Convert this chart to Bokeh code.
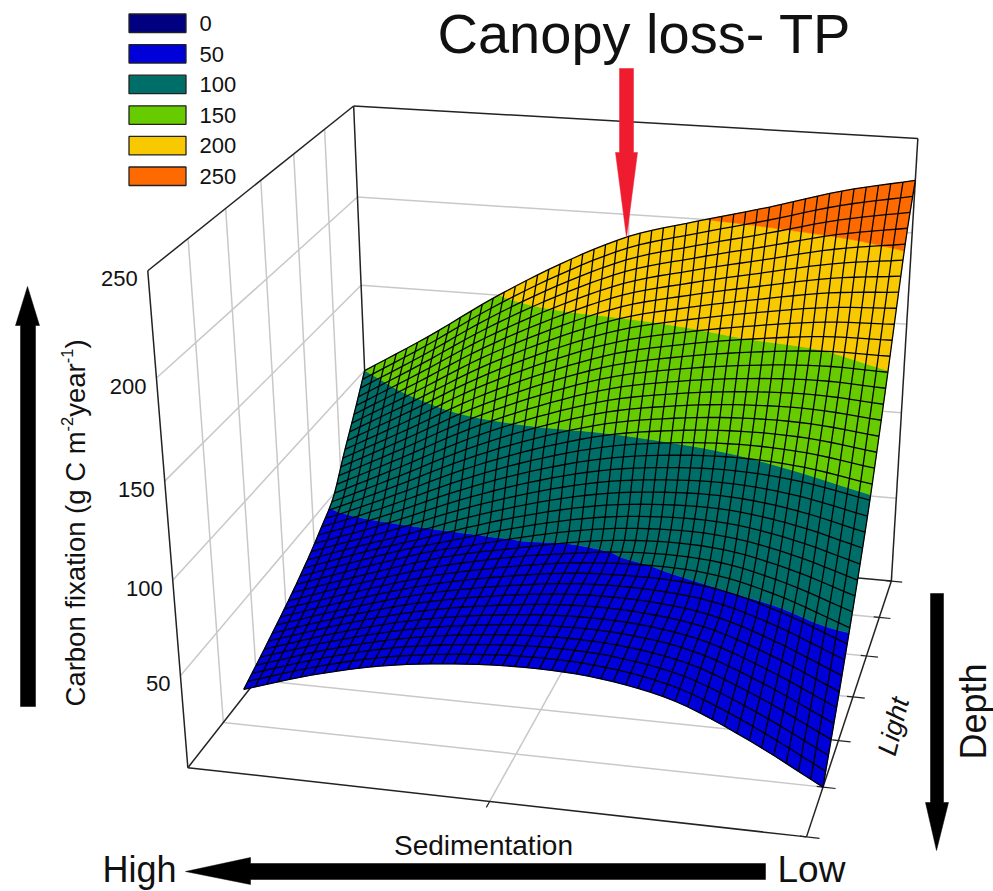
import numpy as np
from bokeh.plotting import figure
from bokeh.models import Range1d, ColumnDataSource
from bokeh.core.properties import value
from bokeh.embed import file_html
from bokeh.resources import INLINE

# ---- data ----
legend_levels = [0, 50, 100, 150, 200, 250]
legend_colors = ["#000080", "#0000d8", "#006e68", "#66cc00", "#f8c800", "#ff6a00"]
z_ticks = [50, 100, 150, 200, 250]
z_max = 250
sed_nodes = [0, 0.125, 0.25, 0.375, 0.5, 0.625, 0.75, 0.875, 1]
light_nodes = [0, 0.2, 0.4, 0.5, 0.6, 0.7, 0.8, 0.9, 1]
# Carbon fixation read at the coarse nodes; the fine mesh below is a display
# refinement of these readings, as the original draws a smooth fitted surface.
z_light_00 = [20, 32, 41, 46, 48, 46, 38, 21, 0]
z_light_20 = [27, 36, 43, 47, 48, 47, 43, 37, 35]
z_light_40 = [35, 41, 46, 48, 49, 48, 47, 55, 74]
z_light_50 = [40, 45, 48, 49, 49, 49, 58, 76, 96]
z_light_60 = [46, 48, 50, 52, 52, 62, 82, 100, 122]
z_light_70 = [53, 66, 80, 88, 88, 96, 108, 125, 150]
z_light_80 = [69, 88, 108, 116, 120, 129, 141, 152, 180]
z_light_90 = [84, 108, 130, 142, 148, 158, 174, 188, 208]
z_light_100 = [100, 123, 148, 170, 188, 199, 209, 220, 228]
z_rows = [z_light_00, z_light_20, z_light_40, z_light_50, z_light_60,
          z_light_70, z_light_80, z_light_90, z_light_100]

# ---- camera: box coordinates (u, v, w) -> page pixels, fitted on the box ----
anchors = [
    ((0, 0, 0), (187, 766)), ((1, 0, 0), (805, 836)), ((1, 1, 0), (890, 580)),
    ((0, 0, 1), (148, 268)), ((0, 1, 1), (353, 104)), ((1, 1, 1), (917, 138)),
    ((0, 1, .8), (357, 197)), ((0, 1, .6), (361, 285)), ((0, 1, .4), (364, 370)),
    ((0, 0, .2), (180, 675)), ((0, 0, .4), (172, 582)),
    ((1, 1/6, 0), (822, 787)), ((1, .5, 0), (855, 697)), ((0, .5, 1), (260, 182)),
]
rows = []
for (u, v, w), (x, y) in anchors:
    rows.append([u, v, w, 1, 0, 0, 0, 0, -x*u, -x*v, -x*w, -x])
    rows.append([0, 0, 0, 0, u, v, w, 1, -y*u, -y*v, -y*w, -y])
cam = np.linalg.svd(np.array(rows, float))[2][-1].reshape(3, 4)


def project(u, v, w):
    u, v, w = np.asarray(u, float), np.asarray(v, float), np.asarray(w, float)
    d = cam[2, 0]*u + cam[2, 1]*v + cam[2, 2]*w + cam[2, 3]
    x = (cam[0, 0]*u + cam[0, 1]*v + cam[0, 2]*w + cam[0, 3]) / d
    y = (cam[1, 0]*u + cam[1, 1]*v + cam[1, 2]*w + cam[1, 3]) / d
    return x, y


def smooth(xs, ys, q):
    xs, ys = np.asarray(xs, float), np.asarray(ys, float)
    m = np.gradient(ys, xs, axis=0)
    i = np.clip(np.searchsorted(xs, q) - 1, 0, len(xs) - 2)
    h = xs[i+1] - xs[i]
    r = (q - xs[i]) / h
    shape = (-1,) + (1,)*(ys.ndim - 1)
    r = r.reshape(shape)
    hh = h.reshape(shape)
    return ((2*r**3 - 3*r**2 + 1)*ys[i] + (r**3 - 2*r**2 + r)*hh*m[i]
            + (-2*r**3 + 3*r**2)*ys[i+1] + (r**3 - r**2)*hh*m[i+1])


n_s, n_t = 48, 38
s_fine = np.linspace(0, 1, n_s + 1)
t_dense = np.linspace(0, 1, 601)
z_by_t = smooth(light_nodes, np.array(z_rows, float), t_dense)
Z_dense = smooth(sed_nodes, z_by_t.T, s_fine).T


def mesh_uv(s, t):
    gap = 0.04 * (1 - t)
    return gap + s * (1 - gap), 1/6 + 5/6 * t


# mesh rows are spaced evenly on the page along each column, as in the original
T = np.zeros((n_t + 1, n_s + 1))
Z = np.zeros_like(T)
for i, s in enumerate(s_fine):
    ud, vd = mesh_uv(s, t_dense)
    xd, yd = project(ud, vd, Z_dense[:, i] / z_max)
    cum = np.concatenate([[0], np.cumsum(np.hypot(np.diff(xd), np.diff(yd)))])
    T[:, i] = np.interp(np.linspace(0, cum[-1], n_t + 1), cum, t_dense)
    Z[:, i] = np.interp(T[:, i], t_dense, Z_dense[:, i])
S = np.tile(s_fine, (n_t + 1, 1))
U, V = mesh_uv(S, T)


def clip(poly, limit, keep_above):
    out = []
    for i in range(len(poly)):
        a, b = poly[i], poly[(i + 1) % len(poly)]
        ina = a[2] >= limit if keep_above else a[2] <= limit
        inb = b[2] >= limit if keep_above else b[2] <= limit
        if ina:
            out.append(a)
        if ina != inb:
            r = (limit - a[2]) / (b[2] - a[2])
            out.append(tuple(a[k] + r*(b[k] - a[k]) for k in range(3)))
    return out


fills_x, fills_y, fills_c = [], [], []
for j in range(n_t):
    for i in range(n_s):
        idx = [(j, i), (j, i+1), (j+1, i+1), (j+1, i)]
        cell = [(U[c], V[c], Z[c]) for c in idx]
        lo = -1e9
        for level, color in zip(legend_levels, legend_colors):
            piece = clip(clip(cell, lo, True), level, False)
            lo = level
            if len(piece) >= 3:
                a = np.array(piece)
                px, py = project(a[:, 0], a[:, 1], a[:, 2] / z_max)
                fills_x.append(px.tolist())
                fills_y.append(py.tolist())
                fills_c.append(color)

# ---- page ----
W, H = 993, 891
p = figure(width=W, height=H, x_range=Range1d(0, W), y_range=Range1d(H, 0),
           output_backend="svg", toolbar_location=None, min_border=0)
p.xaxis.visible = False
p.yaxis.visible = False
p.xgrid.visible = False
p.ygrid.visible = False
p.outline_line_color = None
p.background_fill_color = "white"

font = value("Liberation Sans")
GRID, EDGE = "#c8c8c8", "#222222"


def seg(a, b, color, width):
    x, y = project(*np.array([a, b], float).T)
    p.line(x, y, line_color=color, line_width=width)


for k in range(1, 5):
    f = k / 5
    seg((0, 0, f), (0, 1, f), GRID, 1.5)
    seg((0, 1, f), (1, 1, f), GRID, 1.5)
for k in range(1, 6):
    f = k / 6
    seg((0, f, 0), (0, f, 1), GRID, 1.5)
    seg((0, f, 0), (1, f, 0), GRID, 1.5)
seg((0.5, 0, 0), (0.5, 1, 0), GRID, 1.5)
seg((0.5, 1, 0), (0.5, 1, 1), GRID, 1.5)

for a, b in [((0, 0, 0), (1, 0, 0)), ((1, 0, 0), (1, 1, 0)), ((0, 0, 0), (0, 1, 0)),
             ((0, 1, 0), (1, 1, 0)), ((0, 0, 0), (0, 0, 1)), ((0, 0, 1), (0, 1, 1)),
             ((0, 1, 1), (1, 1, 1)), ((1, 1, 1), (1, 1, 0)), ((0, 1, 0), (0, 1, 1))]:
    seg(a, b, EDGE, 1.5)
for k in range(0, 7):
    seg((1, k/6, 0), (1.02, k/6, 0), EDGE, 1.2)
    seg((1, k/6, 0), (0.99, k/6, 0), EDGE, 1.2)
seg((0.5, 0, 0), (0.5, -0.02, 0), EDGE, 1.2)

p.patches(xs="x", ys="y", fill_color="c", line_color="c", line_width=0.6,
          source=ColumnDataSource(dict(x=fills_x, y=fills_y, c=fills_c)))

mx, my = project(U, V, Z / z_max)
mesh_x = [mx[j, :].tolist() for j in range(n_t + 1)] + [mx[:, i].tolist() for i in range(n_s + 1)]
mesh_y = [my[j, :].tolist() for j in range(n_t + 1)] + [my[:, i].tolist() for i in range(n_s + 1)]
p.multi_line(mesh_x, mesh_y, line_color="#000000", line_width=1.3)

# z tick labels
tx, ty = project(np.zeros(len(z_ticks)), np.zeros(len(z_ticks)), np.array(z_ticks) / z_max)
p.text(tx - 10, ty + 8, text=[str(t) for t in z_ticks], text_font=font, text_font_size="22px",
       text_align="right", text_baseline="middle", text_color="#111111")

# legend
for n, (lev, col) in enumerate(zip(legend_levels, legend_colors)):
    top = 13.5 + n * 30.6
    p.quad(left=128.5, right=185.5, top=top, bottom=top + 18.5, fill_color=col,
           line_color="#222222", line_width=1.3)
    p.text([199], [top + 9.5], text=[str(lev)], text_font=font, text_font_size="22px",
           text_align="left", text_baseline="middle", text_color="#111111")


def label(x, y, s, size, angle=0.0, align="center", style="normal"):
    p.text([x], [y], text=[s], text_font=font, text_font_size=f"{size}px", angle=angle,
           text_align=align, text_baseline="middle", text_font_style=style,
           text_color="#111111")


label(644, 33, "Canopy loss- TP", 56)
label(483, 845, "Sedimentation", 28)
label(893, 726, "Light", 27, angle=np.radians(76), style="italic")
label(973, 711, "Depth", 36, angle=np.pi/2)
label(102, 869, "High", 36, align="left")
label(777, 869, "Low", 37, align="left")

# rotated axis title with superscripts
fs = 27.5
pos = 706.0
for s, em, sup in [("Carbon fixation (g C m", 10.003, False), ("-2", 0.889, True),
                   ("year", 1.945, False), ("-1", 0.889, True), (")", 0.333, False)]:
    size = fs * (0.6 if sup else 1)
    p.text([75 - (9 if sup else 0)], [pos], text=[s], text_font=font, text_font_size=f"{size}px",
           angle=np.pi/2, text_align="left", text_baseline="middle", text_color="#111111")
    pos -= em * size

# block arrows
arrows = [
    ("#000000", [20, 35, 35, 39, 27, 15, 20], [706, 706, 325, 325, 286, 325, 325]),
    ("#000000", [765, 765, 250, 250, 185, 250, 250, 765], [863, 879, 879, 884, 871, 857, 863, 863]),
    ("#000000", [930, 943, 943, 948, 936, 925, 930], [593, 593, 802, 802, 850, 802, 802]),
    ("#ee1c2e", [619, 633, 633, 637, 626, 615, 619], [68, 68, 152, 152, 237, 152, 152]),
]
for col, ax, ay in arrows:
    p.patch(ax, ay, fill_color=col, line_color=col, line_width=0.5)

open("out.html", "w").write(file_html(p, INLINE))
